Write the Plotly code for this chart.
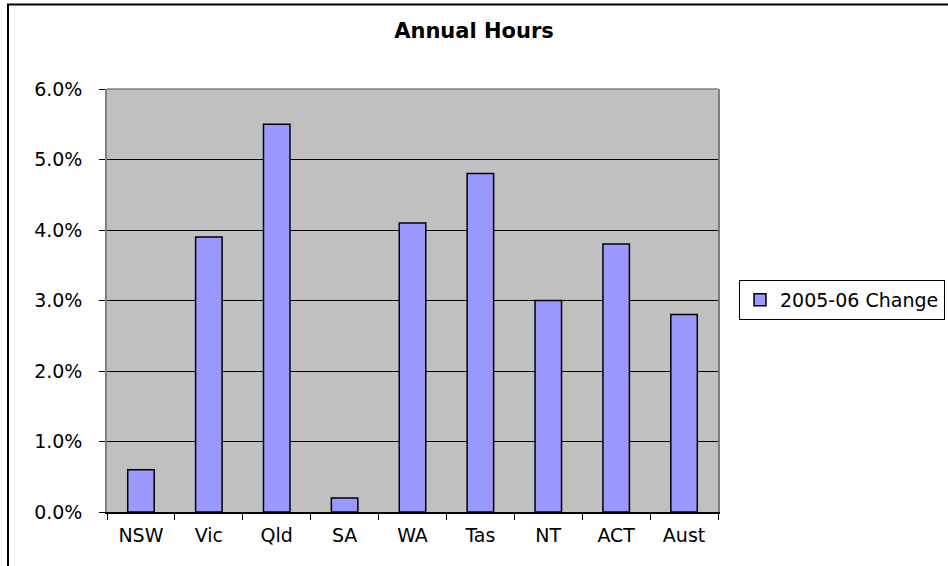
import plotly.graph_objects as go

categories = ["NSW", "Vic", "Qld", "SA", "WA", "Tas", "NT", "ACT", "Aust"]
change_2005_06 = [0.006, 0.039, 0.055, 0.002, 0.041, 0.048, 0.030, 0.038, 0.028]
series_name = "2005-06 Change"
y_ticks = [0.0, 0.01, 0.02, 0.03, 0.04, 0.05, 0.06]

FONT = "DejaVu Sans"

fig = go.Figure()
fig.add_trace(go.Bar(
    x=categories,
    y=change_2005_06,
    name=series_name,
    marker=dict(color="#9999FF", line=dict(color="#000000", width=1.5)),
    showlegend=True,
))

W, H = 948, 566
ml, mr, mt, mb = 107, 230, 89, 54
pw = W - ml - mr
ph = H - mt - mb

def px_to_paper_x(px):
    return (px - ml) / pw

def py_to_paper_y(py):
    return (H - mb - py) / ph

fig.update_layout(
    width=W, height=H,
    margin=dict(l=ml, r=mr, t=mt, b=mb, autoexpand=False),
    paper_bgcolor="white",
    plot_bgcolor="#C0C0C0",
    font=dict(family=FONT, size=19, color="black"),
    title=dict(text="<b>Annual Hours</b>", x=0.5, xref="container", xanchor="center",
               y=1 - 31 / H, yref="container", yanchor="middle",
               font=dict(family=FONT, size=21, color="black")),
    bargap=0.61,
    showlegend=True,
    legend=dict(x=px_to_paper_x(739), xanchor="left", y=py_to_paper_y(300), yanchor="middle",
                bordercolor="#000000", borderwidth=1, bgcolor="white",
                font=dict(family=FONT, size=19, color="black")),
    xaxis=dict(showgrid=False, showline=True, linecolor="#000000", linewidth=1.5,
               ticks="outside", tickson="boundaries", ticklen=6, tickcolor="#000000",
               tickfont=dict(family=FONT, size=19, color="black"), ticklabelstandoff=5),
    yaxis=dict(range=[0, 0.06], tickvals=y_ticks, tickformat=".1%",
               showgrid=True, gridcolor="#000000", gridwidth=1,
               showline=True, linecolor="#808080", linewidth=1.5, mirror=True,
               ticks="outside", ticklen=6, tickcolor="#000000",
               tickfont=dict(family=FONT, size=19, color="black"), ticklabelstandoff=13,
               zeroline=False),
    shapes=[
        dict(type="line", xref="paper", yref="paper", x0=0, x1=1, y0=1, y1=1,
             line=dict(color="#808080", width=1.5)),
        dict(type="rect", xref="paper", yref="paper",
             x0=px_to_paper_x(8), x1=px_to_paper_x(960),
             y0=py_to_paper_y(580), y1=py_to_paper_y(4.5),
             line=dict(color="#000000", width=2), fillcolor="rgba(0,0,0,0)"),
    ],
)

fig.write_html("out.html", config={"displayModeBar": False},
               post_script="document.body.style.margin='0';document.body.style.overflow='hidden';")
